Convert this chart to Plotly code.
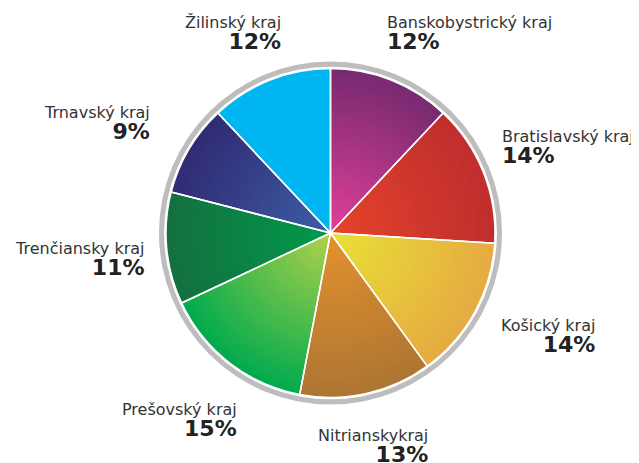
import math
import plotly.graph_objects as go

# data
regions = ["Banskobystrický kraj", "Bratislavský kraj", "Košický kraj", "Nitrianskykraj",
           "Prešovský kraj", "Trenčiansky kraj", "Trnavský kraj", "Žilinský kraj"]
shares = [12, 14, 14, 13, 15, 11, 9, 12]

# radial gradient per slice: (outer colour, inner colour)
outer_cols = ["#772a70", "#bf2e2e", "#e6aa42", "#ad7532", "#00aa4e", "#14703f", "#302b74", "#00b6f0"]
inner_cols = ["#e0409a", "#e6432a", "#e8e236", "#e4922e", "#b2d24a", "#009a4a", "#3c5ea6", "#00b6f0"]
label_align = ["left", "left", "right", "right", "right", "right", "right", "right"]
label_anchor = ["left", "center", "center", "center", "center", "center", "center", "center"]
label_dx = [-38, 5, -2, -12, 2, -2, -18, -5]
label_dy = [0, -6, 0, 4, 18, 6, 0, 0]

W, H = 639, 463
off = 8  # page body margin
cx, cy = 330.5 - off, 233 - off
R = 164.5


def dom(r):
    return dict(x=[(cx - r) / W, (cx + r) / W], y=[1 - (cy + r) / H, 1 - (cy - r) / H])


def mix(c1, c2, t):
    a = [int(c1[i:i + 2], 16) for i in (1, 3, 5)]
    b = [int(c2[i:i + 2], 16) for i in (1, 3, 5)]
    return "rgb(%d,%d,%d)" % tuple(round(a[k] + (b[k] - a[k]) * t) for k in range(3))


fig = go.Figure()

# grey ring
fig.add_trace(go.Pie(values=[1], domain=dom(171.5), hole=0.970, sort=False,
                     marker=dict(colors=["#bdbdbd"], line=dict(width=0)),
                     textinfo="none", hoverinfo="skip", showlegend=False))

# gradient layers
n = 28
for k in range(n):
    r = R * (1 - k / n)
    t = (k + 0.5) / n
    cols = [mix(o, i, t) for o, i in zip(outer_cols, inner_cols)]
    fig.add_trace(go.Pie(labels=regions, values=shares, domain=dom(r), sort=False,
                         direction="clockwise", rotation=0,
                         marker=dict(colors=cols, line=dict(width=0)),
                         textinfo="none", hoverinfo="skip", showlegend=False))

# slice separators
fig.add_trace(go.Pie(labels=regions, values=shares, domain=dom(R), sort=False,
                     direction="clockwise", rotation=0,
                     marker=dict(colors=["rgba(0,0,0,0)"] * len(shares), line=dict(color="white", width=1.5)),
                     textinfo="none", hovertemplate="%{label}: %{value}%<extra></extra>", showlegend=False))

# labels placed along each slice's mid angle
total = sum(shares)
cum = 0
for name, v, al, anc, dx, dy in zip(regions, shares, label_align, label_anchor, label_dx, label_dy):
    mid = (cum + v / 2) / total * 2 * math.pi
    cum += v
    px = cx + 250 * math.sin(mid)
    py = cy - 215 * math.cos(mid)
    fig.add_annotation(x=px / W, y=1 - py / H, xref="paper", yref="paper",
                       xshift=dx, yshift=-dy,
                       text=f"{name}<br><b><span style='font-size:22px;color:#222'>{v}%</span></b>",
                       showarrow=False, align=al, xanchor=anc, yanchor="middle",
                       font=dict(family="DejaVu Sans", size=16, color="#333"))

fig.update_layout(width=W, height=H, margin=dict(l=0, r=0, t=0, b=0),
                  paper_bgcolor="white", plot_bgcolor="white")
fig.write_html("out.html")
